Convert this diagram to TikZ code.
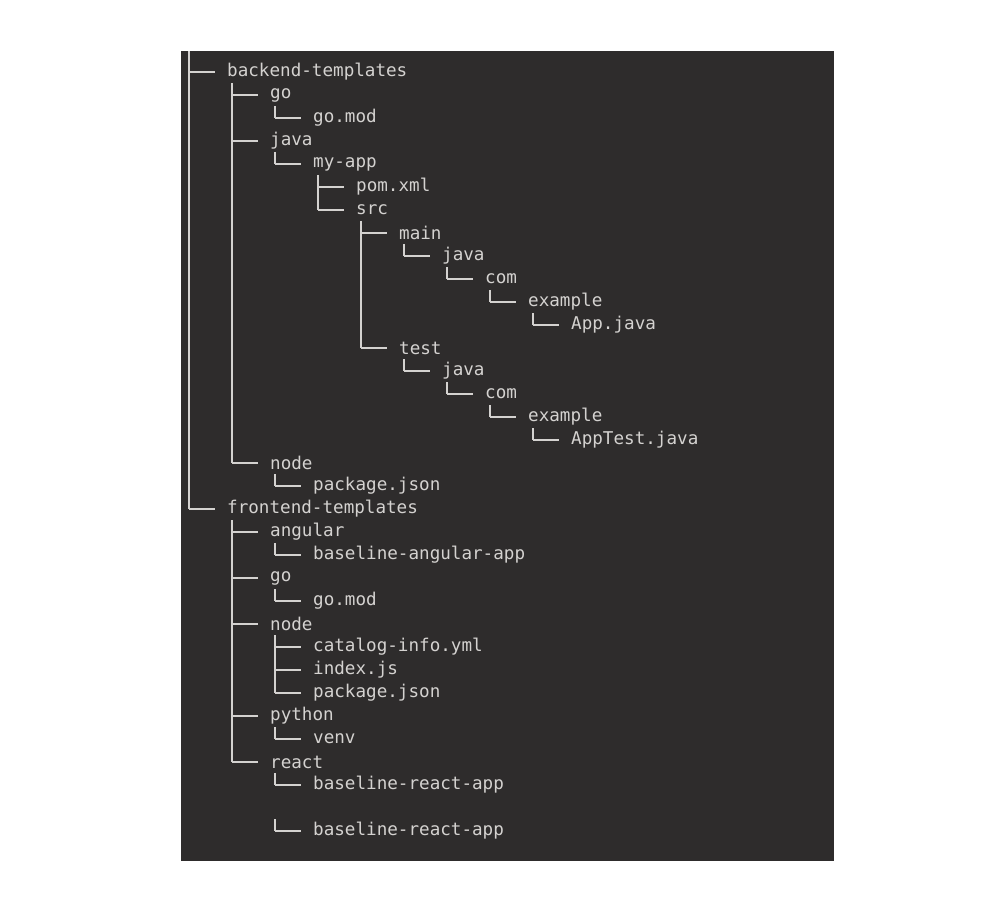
\documentclass[tikz,border=0pt]{standalone}
\usepackage{fontspec}
\setmonofont{DejaVu Sans Mono}
\definecolor{bg}{HTML}{2E2C2C}
\definecolor{fg}{HTML}{D4D2D0}
\begin{document}
\begin{tikzpicture}[x=1pt,y=-1pt,
  entry/.style={anchor=west,inner sep=0pt,text=fg,font=\ttfamily\fontsize{17.6}{20}\selectfont},
  branch/.style={draw=fg,line width=1.6pt}]
\useasboundingbox (0,0) rectangle (1003,917);
\fill[bg] (181,51) rectangle (834,861);
\foreach \r/\d/\t in {0/0/backend-templates,1/1/go,2/2/go.mod,3/1/java,4/2/my-app,5/3/pom.xml,6/3/src,7/4/main,8/5/java,9/6/com,10/7/example,11/8/App.java,12/4/test,13/5/java,14/6/com,15/7/example,16/8/AppTest.java,17/1/node,18/2/package.json,19/0/frontend-templates,20/1/angular,21/2/baseline-angular-app,22/1/go,23/2/go.mod,24/1/node,25/2/catalog-info.yml,26/2/index.js,27/2/package.json,28/1/python,29/2/venv,30/1/react,31/2/baseline-react-app,33/2/baseline-react-app}{
  \node[entry] (n\r) at ({227+43*\d},{72+23*\r}) {\t};
  \draw[branch] ({189+43*\d},{72+23*\r}) -- ({215+43*\d},{72+23*\r});
}
\draw[branch] (189,51) -- (189,{72+23*19});
\foreach \d/\a/\b in {1/0/17,1/19/30,2/1/2,2/3/4,2/17/18,2/20/21,2/22/23,2/24/27,2/28/29,2/30/31,2/32/33,3/4/6,4/6/12,5/7/8,5/12/13,6/8/9,6/13/14,7/9/10,7/14/15,8/10/11,8/15/16}{
  \draw[branch] ({189+43*\d},{83+23*\a}) -- ({189+43*\d},{72+23*\b});
}
\end{tikzpicture}
\end{document}
